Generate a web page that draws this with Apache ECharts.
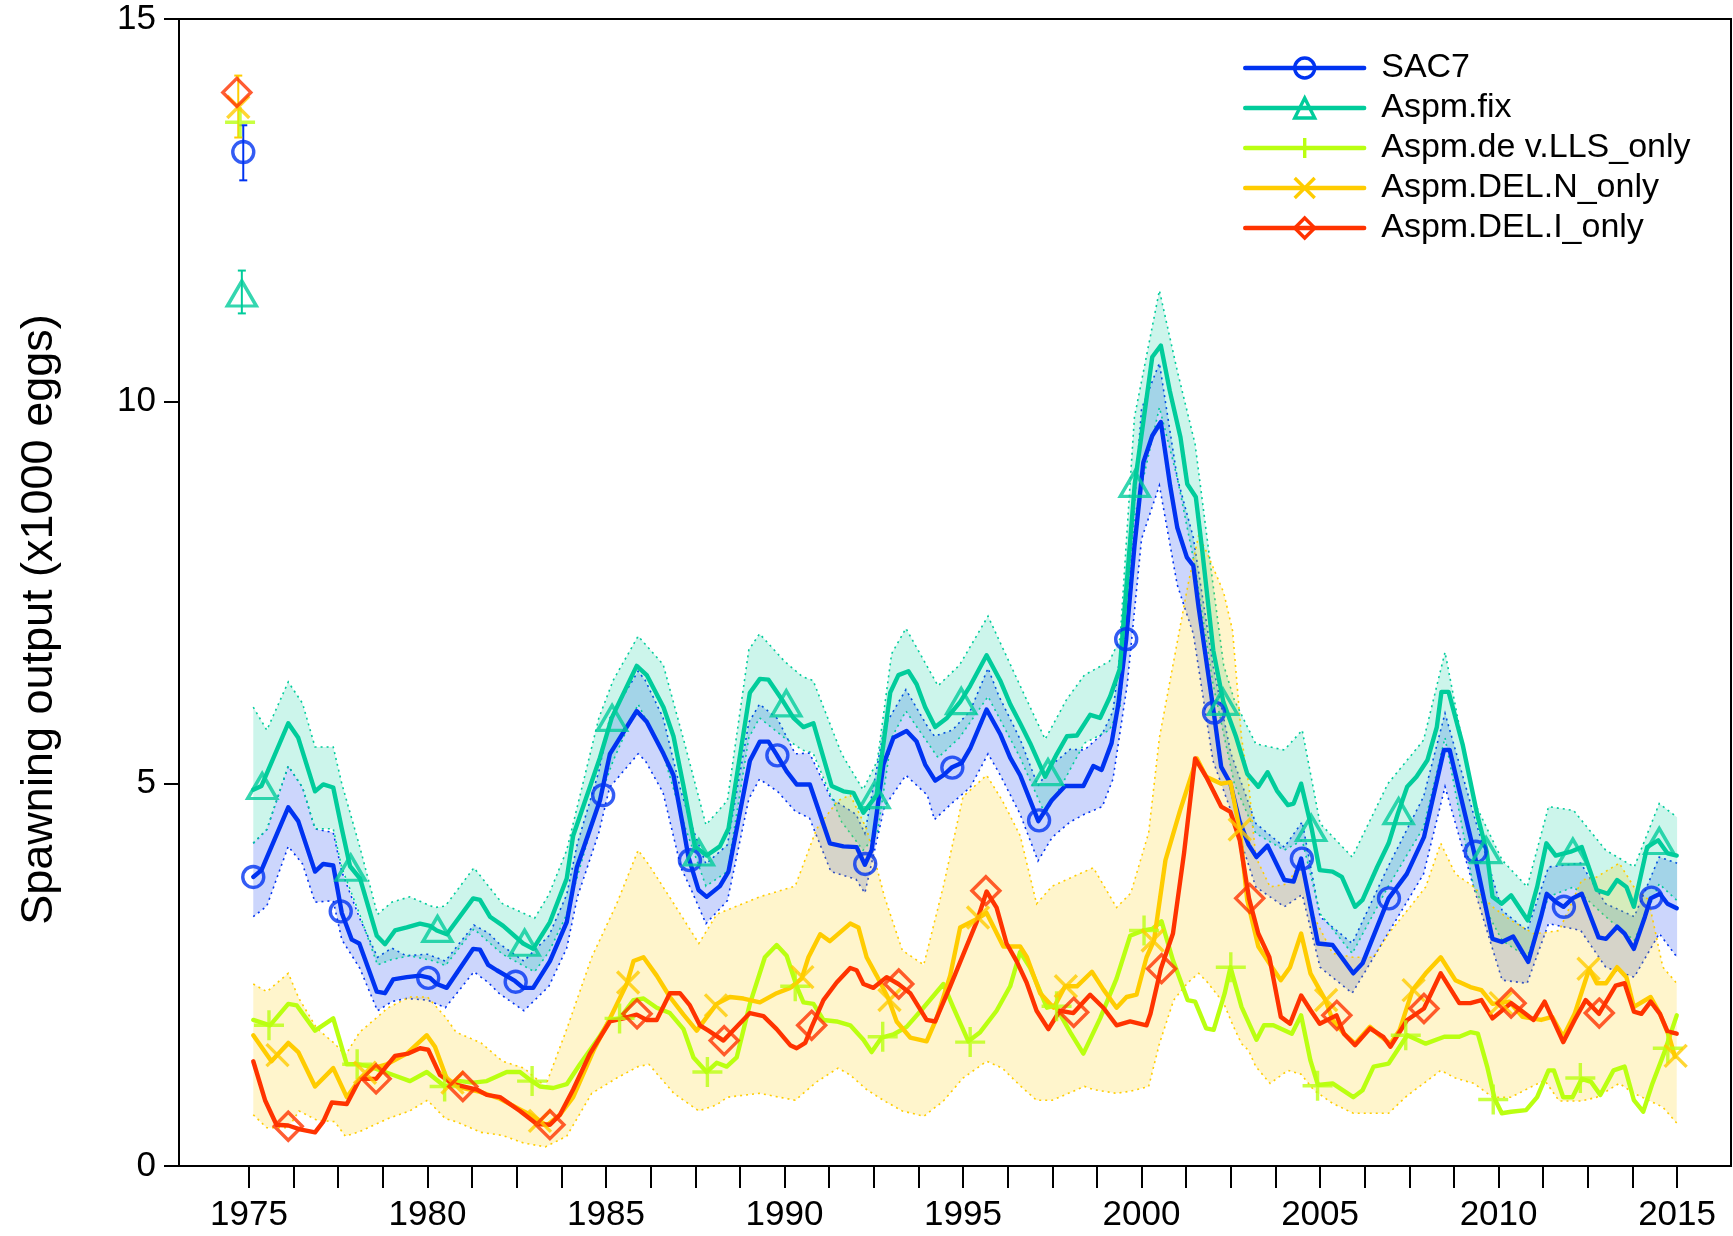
<!DOCTYPE html>
<html>
<head>
<meta charset="utf-8">
<script src="https://cdn.jsdelivr.net/npm/echarts@6/dist/echarts.min.js"></script>
<style>
html,body{margin:0;padding:0;background:#fff;}
#chart{width:1733px;height:1236px;}
</style>
</head>
<body>
<div id="chart"></div>
<script>
// ---------------- DATA ----------------
const seriesNames = ['SAC7', 'Aspm.fix', 'Aspm.de v.LLS_only', 'Aspm.DEL.N_only', 'Aspm.DEL.I_only'];
const yAxisTitle = 'Spawning output (x1000 eggs)';

const xTickValues = [1975, 1976.25, 1977.5, 1978.75, 1980, 1981.25, 1982.5, 1983.75, 1985, 1986.25, 1987.5, 1988.75,
  1990, 1991.25, 1992.5, 1993.75, 1995, 1996.25, 1997.5, 1998.75, 2000, 2001.25, 2002.5, 2003.75, 2005, 2006.25,
  2007.5, 2008.75, 2010, 2011.25, 2012.5, 2013.75, 2015];
const xLabelValues = [1975, 1980, 1985, 1990, 1995, 2000, 2005, 2010, 2015];

// time series [year, value]
const sac7Line = [[1975.12,3.78],[1975.35,3.87],[1976.10,4.69],[1976.38,4.51],[1976.85,3.85],[1977.08,3.95],[1977.36,3.93],[1977.60,3.31],[1977.88,2.96],[1978.09,2.91],[1978.58,2.28],[1978.81,2.26],[1979.04,2.44],[1979.42,2.47],[1979.79,2.49],[1980.07,2.46],[1980.26,2.38],[1980.54,2.33],[1981.28,2.84],[1981.47,2.83],[1981.70,2.63],[1981.94,2.56],[1982.45,2.42],[1982.68,2.33],[1982.96,2.33],[1983.43,2.68],[1983.90,3.19],[1984.18,3.90],[1984.83,4.78],[1985.11,5.39],[1985.86,5.95],[1986.14,5.81],[1986.61,5.39],[1986.89,5.11],[1987.17,4.41],[1987.31,4.04],[1987.59,3.61],[1987.82,3.52],[1988.19,3.66],[1988.43,3.85],[1989.03,5.30],[1989.31,5.55],[1989.55,5.55],[1989.78,5.38],[1990.06,5.16],[1990.34,4.99],[1990.71,4.99],[1991.27,4.22],[1991.65,4.18],[1992.02,4.17],[1992.25,3.94],[1992.44,4.13],[1992.77,5.25],[1993.05,5.60],[1993.42,5.69],[1993.70,5.55],[1993.94,5.25],[1994.22,5.04],[1994.45,5.11],[1994.68,5.21],[1994.96,5.27],[1995.20,5.46],[1995.66,5.97],[1996.04,5.65],[1996.32,5.34],[1996.60,5.11],[1997.11,4.51],[1997.48,4.78],[1997.86,4.97],[1998.37,4.97],[1998.65,5.23],[1998.88,5.18],[1999.16,5.53],[1999.35,6.04],[1999.57,6.89],[1999.80,8.10],[2000.05,9.20],[2000.30,9.55],[2000.54,9.73],[2000.80,8.90],[2001.00,8.35],[2001.27,7.96],[2001.45,7.85],[2001.60,7.30],[2002.02,5.94],[2002.23,5.22],[2002.49,5.00],[2002.75,4.50],[2003.00,4.20],[2003.22,4.04],[2003.53,4.19],[2004.00,3.74],[2004.26,3.72],[2004.47,4.02],[2004.94,2.91],[2005.35,2.89],[2005.93,2.52],[2006.19,2.65],[2006.92,3.50],[2007.43,3.82],[2007.91,4.30],[2008.47,5.44],[2008.63,5.44],[2009.31,4.11],[2009.83,2.97],[2010.09,2.93],[2010.41,3.00],[2010.83,2.67],[2011.19,3.26],[2011.35,3.56],[2011.61,3.45],[2011.82,3.39],[2012.07,3.50],[2012.33,3.56],[2012.80,2.99],[2013.01,2.97],[2013.32,3.13],[2013.53,3.04],[2013.79,2.84],[2014.10,3.26],[2014.26,3.50],[2014.52,3.56],[2014.73,3.43],[2014.99,3.37]];

const fixLine = [[1975.12,4.92],[1975.35,4.97],[1976.10,5.79],[1976.38,5.60],[1976.85,4.90],[1977.08,4.99],[1977.36,4.95],[1977.60,4.41],[1977.83,3.92],[1978.11,3.76],[1978.58,3.01],[1978.81,2.90],[1979.09,3.08],[1979.42,3.12],[1979.79,3.17],[1980.07,3.14],[1980.26,3.08],[1980.54,3.03],[1981.28,3.50],[1981.47,3.48],[1981.75,3.26],[1982.12,3.14],[1982.68,2.91],[1982.96,2.84],[1983.43,3.19],[1983.90,3.76],[1984.08,4.32],[1984.83,5.34],[1985.16,5.86],[1985.86,6.54],[1986.14,6.42],[1986.61,6.00],[1986.89,5.62],[1987.17,4.97],[1987.49,4.18],[1987.82,4.06],[1988.19,4.18],[1988.43,4.41],[1989.03,6.19],[1989.31,6.37],[1989.55,6.36],[1989.97,6.07],[1990.25,5.86],[1990.53,5.74],[1990.81,5.79],[1991.32,4.97],[1991.65,4.90],[1991.93,4.88],[1992.21,4.62],[1992.58,4.85],[1992.96,6.19],[1993.19,6.42],[1993.47,6.47],[1993.70,6.30],[1993.94,6.00],[1994.22,5.74],[1994.55,5.86],[1994.92,6.07],[1995.20,6.28],[1995.66,6.68],[1996.04,6.35],[1996.32,6.04],[1996.60,5.79],[1996.88,5.53],[1997.30,5.09],[1997.63,5.39],[1997.91,5.62],[1998.19,5.63],[1998.56,5.90],[1998.84,5.86],[1999.12,6.14],[1999.39,6.50],[1999.81,8.92],[2000.30,10.58],[2000.54,10.73],[2000.79,10.14],[2001.09,9.53],[2001.28,8.92],[2001.52,8.75],[2001.70,8.05],[2002.01,6.74],[2002.29,6.07],[2002.65,5.61],[2002.96,5.13],[2003.27,4.96],[2003.53,5.15],[2003.79,4.91],[2004.10,4.72],[2004.26,4.74],[2004.47,5.00],[2004.77,4.40],[2004.99,3.87],[2005.35,3.85],[2005.61,3.78],[2005.98,3.39],[2006.19,3.48],[2006.60,3.91],[2006.92,4.22],[2007.18,4.61],[2007.44,4.96],[2007.70,5.09],[2008.01,5.31],[2008.27,5.74],[2008.40,6.20],[2008.60,6.20],[2009.00,5.50],[2009.40,4.60],[2009.67,4.11],[2009.83,3.52],[2010.09,3.43],[2010.35,3.54],[2010.82,3.21],[2011.08,3.65],[2011.34,4.22],[2011.60,4.06],[2012.02,4.11],[2012.33,4.17],[2012.75,3.61],[2013.06,3.56],[2013.32,3.74],[2013.58,3.65],[2013.79,3.39],[2014.16,4.17],[2014.47,4.26],[2014.73,4.09],[2014.99,4.06]];

const deLine = [[1975.12,1.91],[1975.59,1.84],[1976.10,2.12],[1976.34,2.10],[1976.85,1.77],[1977.36,1.93],[1977.74,1.33],[1978.06,1.33],[1978.39,1.30],[1979.04,1.19],[1979.51,1.11],[1979.98,1.23],[1980.49,1.04],[1980.91,1.11],[1981.28,1.09],[1981.66,1.11],[1982.22,1.23],[1982.59,1.23],[1982.92,1.11],[1983.15,1.04],[1983.52,1.02],[1983.90,1.07],[1984.27,1.33],[1984.83,1.70],[1985.11,1.91],[1985.39,1.93],[1985.77,2.17],[1986.05,2.19],[1986.42,2.07],[1986.79,2.00],[1987.17,1.79],[1987.45,1.42],[1987.82,1.23],[1988.10,1.35],[1988.38,1.30],[1988.66,1.42],[1989.03,2.12],[1989.45,2.73],[1989.78,2.89],[1990.06,2.75],[1990.34,2.35],[1990.53,2.14],[1990.81,2.12],[1991.09,1.91],[1991.46,1.89],[1991.84,1.84],[1992.21,1.65],[1992.44,1.49],[1992.72,1.68],[1993.05,1.72],[1993.42,1.82],[1993.89,2.07],[1994.45,2.38],[1994.73,2.07],[1995.15,1.63],[1995.48,1.75],[1995.94,2.03],[1996.32,2.35],[1996.60,2.80],[1996.88,2.59],[1997.35,2.07],[1997.58,2.10],[1998.00,1.75],[1998.37,1.47],[1998.84,1.93],[1999.30,2.45],[1999.68,3.01],[2000.05,3.08],[2000.30,3.10],[2000.56,3.20],[2000.88,2.69],[2001.29,2.17],[2001.50,2.15],[2001.81,1.80],[2002.02,1.78],[2002.33,2.26],[2002.49,2.60],[2002.80,2.08],[2003.22,1.65],[2003.43,1.84],[2003.69,1.84],[2004.21,1.73],[2004.47,1.97],[2004.73,1.38],[2004.94,1.06],[2005.35,1.08],[2005.93,0.90],[2006.19,0.99],[2006.50,1.30],[2006.92,1.34],[2007.23,1.56],[2007.44,1.71],[2007.96,1.60],[2008.48,1.69],[2008.90,1.69],[2009.21,1.75],[2009.42,1.73],[2009.68,1.30],[2009.89,0.88],[2010.09,0.69],[2010.35,0.71],[2010.77,0.73],[2011.08,0.90],[2011.40,1.25],[2011.55,1.25],[2011.81,0.90],[2012.07,0.90],[2012.33,1.14],[2012.59,1.10],[2012.85,0.93],[2013.22,1.25],[2013.53,1.30],[2013.79,0.86],[2014.05,0.71],[2014.31,1.08],[2014.63,1.47],[2014.99,1.97]];

const delNLine = [[1975.12,1.71],[1975.63,1.37],[1976.10,1.61],[1976.38,1.49],[1976.85,1.04],[1977.36,1.28],[1977.74,0.90],[1978.11,1.14],[1978.48,1.28],[1978.86,1.33],[1979.42,1.47],[1979.98,1.71],[1980.21,1.56],[1980.54,1.14],[1981.00,1.02],[1981.47,0.97],[1982.03,0.88],[1982.59,0.74],[1982.96,0.65],[1983.34,0.53],[1983.71,0.67],[1984.08,0.90],[1984.65,1.51],[1985.11,1.93],[1985.58,2.38],[1985.77,2.68],[1986.05,2.73],[1986.42,2.49],[1986.79,2.21],[1987.17,1.98],[1987.54,1.77],[1988.10,2.12],[1988.47,2.21],[1988.85,2.19],[1989.31,2.14],[1989.78,2.26],[1990.16,2.33],[1990.48,2.45],[1990.67,2.73],[1991.00,3.03],[1991.27,2.94],[1991.84,3.17],[1992.07,3.12],[1992.30,2.73],[1992.58,2.49],[1992.91,2.19],[1993.14,1.89],[1993.52,1.68],[1993.98,1.63],[1994.26,1.93],[1994.64,2.49],[1994.92,3.12],[1995.43,3.24],[1995.66,3.31],[1996.13,2.87],[1996.60,2.87],[1996.79,2.73],[1997.16,2.26],[1997.54,2.07],[1997.86,2.35],[1998.19,2.35],[1998.61,2.54],[1998.93,2.31],[1999.30,2.07],[1999.58,2.21],[1999.86,2.24],[2000.14,2.73],[2000.35,2.95],[2000.67,4.00],[2001.08,4.65],[2001.55,5.33],[2001.81,5.09],[2002.23,5.00],[2002.49,5.02],[2002.75,4.39],[2002.96,3.48],[2003.27,2.87],[2003.58,2.65],[2003.90,2.43],[2004.16,2.60],[2004.47,3.04],[2004.73,2.52],[2005.15,2.17],[2005.35,1.91],[2005.67,1.73],[2005.98,1.60],[2006.40,1.82],[2006.71,1.69],[2006.97,1.60],[2007.23,1.78],[2007.59,2.30],[2007.96,2.52],[2008.38,2.73],[2008.79,2.43],[2009.21,2.34],[2009.52,2.30],[2009.83,2.12],[2010.30,2.15],[2010.67,1.95],[2011.19,1.91],[2011.50,1.95],[2011.81,1.69],[2012.13,1.99],[2012.54,2.58],[2012.75,2.39],[2013.01,2.39],[2013.32,2.60],[2013.58,2.47],[2013.79,2.08],[2014.26,2.21],[2014.52,1.99],[2014.78,1.69],[2014.94,1.43]];

const delILine = [[1975.12,1.37],[1975.45,0.86],[1975.77,0.54],[1976.10,0.53],[1976.43,0.48],[1976.85,0.44],[1977.08,0.58],[1977.32,0.83],[1977.74,0.81],[1978.11,1.14],[1978.56,1.14],[1979.09,1.44],[1979.46,1.47],[1979.79,1.54],[1980.02,1.52],[1980.35,1.19],[1980.72,1.07],[1981.00,1.04],[1981.38,1.00],[1981.66,0.93],[1982.03,0.90],[1982.59,0.72],[1983.06,0.55],[1983.43,0.54],[1983.71,0.67],[1984.08,1.00],[1984.55,1.47],[1985.11,1.89],[1985.49,1.93],[1985.86,1.98],[1986.14,1.91],[1986.42,1.91],[1986.79,2.26],[1987.07,2.26],[1987.35,2.10],[1987.63,1.84],[1987.87,1.77],[1988.29,1.64],[1988.66,1.82],[1989.03,2.00],[1989.41,1.96],[1989.78,1.79],[1990.16,1.58],[1990.34,1.54],[1990.58,1.61],[1990.76,1.82],[1991.09,2.17],[1991.46,2.40],[1991.84,2.59],[1992.02,2.56],[1992.21,2.38],[1992.49,2.33],[1992.86,2.47],[1993.19,2.38],[1993.52,2.26],[1993.98,1.91],[1994.22,1.89],[1994.64,2.35],[1995.01,2.77],[1995.38,3.19],[1995.66,3.59],[1995.94,3.38],[1996.22,2.91],[1996.50,2.68],[1996.78,2.40],[1997.06,2.03],[1997.39,1.79],[1997.71,2.03],[1998.09,2.00],[1998.56,2.24],[1998.93,2.07],[1999.30,1.84],[1999.68,1.89],[2000.14,1.84],[2000.25,1.99],[2000.54,2.58],[2000.88,3.04],[2001.19,4.09],[2001.50,5.33],[2001.81,5.09],[2002.23,4.70],[2002.49,4.63],[2002.75,4.26],[2003.01,3.50],[2003.27,3.04],[2003.58,2.73],[2003.90,1.95],[2004.16,1.86],[2004.47,2.23],[2004.73,2.04],[2004.99,1.86],[2005.46,1.97],[2005.67,1.73],[2005.98,1.58],[2006.40,1.80],[2006.77,1.69],[2006.97,1.56],[2007.44,1.91],[2007.91,2.06],[2008.38,2.52],[2008.90,2.13],[2009.21,2.13],[2009.52,2.17],[2009.83,1.93],[2010.35,2.13],[2010.67,2.02],[2010.98,1.91],[2011.29,2.15],[2011.81,1.62],[2012.13,1.91],[2012.44,2.17],[2012.81,1.99],[2013.28,2.36],[2013.53,2.39],[2013.79,2.02],[2014.00,1.99],[2014.26,2.15],[2014.52,1.99],[2014.73,1.76],[2014.99,1.73]];

// marker positions [year, value]
const sac7Marks = [[1975.12,3.78],[1977.57,3.33],[1980.02,2.46],[1982.47,2.41],[1984.92,4.85],[1987.35,4.00],[1989.80,5.37],[1992.26,3.95],[1994.70,5.21],[1997.13,4.52],[1999.57,6.89],[2002.03,5.93],[2004.49,4.02],[2006.93,3.50],[2009.36,4.11],[2011.83,3.39],[2014.28,3.51]];
const fixMarks = [[1975.37,4.97],[1977.85,3.90],[1980.28,3.10],[1982.72,2.92],[1985.17,5.86],[1987.60,4.10],[1990.05,6.05],[1992.52,4.85],[1994.95,6.08],[1997.38,5.15],[1999.81,8.92],[2002.28,6.07],[2004.75,4.42],[2007.20,4.64],[2009.65,4.13],[2012.08,4.11],[2014.50,4.25]];
const deMarks = [[1975.56,1.84],[1978.03,1.33],[1980.48,1.04],[1982.93,1.11],[1985.38,1.93],[1987.84,1.23],[1990.30,2.35],[1992.75,1.69],[1995.20,1.62],[1997.62,2.09],[2000.07,3.08],[2002.50,2.60],[2004.93,1.05],[2007.40,1.71],[2009.85,0.87],[2012.29,1.15],[2014.74,1.54]];
const delNMarks = [[1975.80,1.45],[1978.25,1.22],[1980.70,1.09],[1983.15,0.59],[1985.62,2.40],[1988.08,2.10],[1990.50,2.47],[1992.94,2.17],[1995.42,3.25],[1997.88,2.35],[2000.31,2.95],[2002.75,4.40],[2005.17,2.17],[2007.62,2.30],[2010.06,2.13],[2012.52,2.58],[2014.96,1.44]];
const delIMarks = [[1976.10,0.52],[1978.56,1.14],[1980.99,1.04],[1983.43,0.54],[1985.87,1.99],[1988.31,1.64],[1990.76,1.84],[1993.20,2.38],[1995.64,3.60],[1998.10,2.01],[2000.56,2.58],[2003.03,3.50],[2005.47,1.97],[2007.91,2.06],[2010.35,2.13],[2012.82,2.00]];

// virgin (equilibrium) estimates [year, value] per model, and their bars [year, low, high, model]
const virginPoints = [[1974.84,13.26],[1974.80,11.41],[1974.75,13.65],[1974.70,13.85],[1974.66,14.04]];
const virginBars = [[1974.84,12.89,13.61,0],[1974.80,11.15,11.71,1],[1974.70,13.45,14.26,3]];

// uncertainty intervals [year, low, high]
const sac7Band = [[1975.12,3.26,4.22],[1975.5,3.40,4.40],[1976.1,4.18,5.23],[1976.5,3.95,4.95],[1976.85,3.45,4.41],[1977.36,3.47,4.36],[1977.6,2.96,3.85],[1978.1,2.59,3.24],[1978.6,2.03,2.73],[1979.0,2.15,2.85],[1979.4,2.19,2.75],[1980.0,2.17,2.77],[1980.5,2.07,2.68],[1981.3,2.54,3.15],[1981.7,2.40,3.05],[1982.0,2.26,2.91],[1982.7,2.03,2.68],[1983.4,2.35,3.01],[1983.9,2.85,3.55],[1984.2,3.52,4.22],[1984.8,4.36,5.16],[1985.1,4.95,5.85],[1985.9,5.39,6.47],[1986.1,5.30,6.35],[1986.6,4.88,5.86],[1987.1,3.90,4.90],[1987.4,3.60,4.45],[1987.8,3.17,3.95],[1988.4,3.47,4.20],[1989.0,4.80,5.80],[1989.3,5.06,6.04],[1989.8,4.90,5.85],[1990.3,4.64,5.39],[1990.7,4.55,5.40],[1991.3,3.85,4.81],[1992.0,3.75,4.60],[1992.25,3.57,4.35],[1992.8,4.70,5.75],[1993.4,5.11,6.23],[1994.0,4.85,5.75],[1994.2,4.53,5.62],[1994.7,4.75,5.70],[1995.2,4.95,5.95],[1995.7,5.39,6.51],[1996.0,5.15,6.15],[1996.6,4.60,5.58],[1997.1,3.99,4.97],[1997.5,4.30,5.25],[1998.0,4.50,5.45],[1998.4,4.60,5.44],[1998.9,4.70,5.65],[1999.2,5.06,5.95],[1999.6,6.30,7.45],[2000.0,8.20,9.90],[2000.5,8.90,10.50],[2001.0,7.60,9.00],[2001.45,6.96,8.22],[2002.0,5.30,6.55],[2002.5,4.65,5.40],[2003.2,3.65,4.48],[2004.0,3.39,4.17],[2004.5,3.55,4.50],[2005.0,2.60,3.26],[2005.9,2.26,2.91],[2006.9,3.04,3.91],[2007.9,3.82,4.83],[2008.5,4.96,5.92],[2009.3,3.65,4.60],[2010.1,2.43,3.34],[2010.8,2.39,3.08],[2011.4,3.17,3.91],[2012.3,3.08,3.96],[2013.0,2.60,3.43],[2013.8,2.47,3.26],[2014.5,3.04,4.04],[2015.0,2.73,3.96]];

const fixBand = [[1975.12,4.22,6.00],[1975.5,4.40,5.70],[1976.1,5.23,6.33],[1976.5,4.95,6.05],[1976.85,4.41,5.48],[1977.36,4.41,5.48],[1977.6,3.90,5.00],[1978.1,3.29,4.18],[1978.6,2.63,3.29],[1979.0,2.70,3.45],[1979.5,2.75,3.52],[1980.2,2.68,3.38],[1980.5,2.62,3.40],[1981.3,3.10,3.90],[1982.1,2.77,3.43],[1983.0,2.54,3.24],[1983.4,2.80,3.55],[1983.9,3.29,4.13],[1984.8,4.78,5.86],[1985.2,5.30,6.35],[1985.9,6.04,6.93],[1986.6,5.39,6.56],[1987.2,4.45,5.53],[1987.8,3.66,4.46],[1988.4,3.85,4.78],[1989.0,5.60,6.75],[1989.3,5.86,6.96],[1990.0,5.60,6.60],[1990.5,5.44,6.40],[1990.8,5.40,6.35],[1991.6,4.50,5.39],[1992.2,4.13,4.92],[1992.6,4.35,5.30],[1993.0,5.60,6.70],[1993.4,5.95,7.03],[1994.3,5.34,6.28],[1994.9,5.60,6.55],[1995.7,6.14,7.19],[1996.6,5.34,6.28],[1997.3,4.60,5.58],[1997.9,5.10,6.10],[1998.4,5.53,6.42],[1999.1,5.70,6.60],[1999.4,6.00,6.90],[1999.8,8.48,9.79],[2000.5,9.92,11.45],[2001.0,9.00,10.40],[2001.5,7.83,9.44],[2002.0,6.31,7.61],[2002.3,5.65,6.55],[2002.6,5.00,6.09],[2003.2,4.35,5.52],[2004.0,4.13,5.44],[2004.5,4.26,5.70],[2005.0,3.30,4.48],[2005.9,2.78,4.04],[2006.9,3.65,5.00],[2007.9,4.43,5.57],[2008.5,5.60,6.72],[2009.3,3.65,4.78],[2010.1,2.95,4.00],[2010.8,2.73,3.65],[2011.4,3.52,4.70],[2012.1,3.65,4.65],[2013.0,3.26,4.13],[2013.8,2.95,3.91],[2014.5,3.69,4.74],[2015.0,3.47,4.56]];

const delNBand = [[1975.12,0.67,2.38],[1975.5,0.50,2.28],[1976.1,0.50,2.52],[1976.4,0.72,2.19],[1976.9,0.60,1.80],[1977.4,0.58,1.60],[1977.7,0.39,1.45],[1978.1,0.45,1.75],[1978.9,0.62,2.07],[1979.5,0.72,2.21],[1980.0,0.86,2.21],[1980.5,0.62,1.95],[1980.8,0.58,1.75],[1981.5,0.44,1.61],[1982.1,0.40,1.37],[1982.7,0.30,1.28],[1983.3,0.25,1.04],[1983.9,0.39,1.79],[1984.6,0.95,2.73],[1985.3,1.15,3.43],[1985.9,1.30,4.13],[1986.2,1.33,3.94],[1986.9,0.95,3.43],[1987.6,0.72,2.91],[1988.1,0.80,3.29],[1988.4,0.90,3.35],[1989.3,0.95,3.52],[1990.3,0.86,3.66],[1990.9,1.10,4.41],[1991.5,1.28,4.78],[1991.84,1.19,4.85],[1992.3,1.00,4.41],[1992.8,0.85,3.52],[1993.3,0.72,2.82],[1993.9,0.65,2.63],[1994.45,0.85,3.66],[1995.0,1.15,4.83],[1995.66,1.37,5.11],[1996.1,1.28,4.78],[1996.6,1.05,4.32],[1997.06,0.86,3.43],[1997.5,0.86,3.66],[1998.4,1.04,3.85],[1998.65,1.00,3.90],[1999.3,0.95,3.38],[1999.7,0.98,3.57],[2000.2,1.04,4.36],[2000.5,1.60,5.60],[2000.9,2.17,6.60],[2001.3,2.40,7.60],[2001.6,2.52,8.25],[2001.85,2.40,8.00],[2002.3,2.13,7.50],[2002.55,1.85,7.00],[2002.8,1.60,5.60],[2003.0,1.51,5.00],[2003.2,1.30,4.04],[2003.6,1.08,3.65],[2004.1,1.25,3.69],[2004.47,1.20,4.00],[2004.83,0.99,3.26],[2005.35,0.82,2.78],[2005.93,0.69,2.73],[2006.5,0.69,2.73],[2006.92,0.69,3.04],[2007.44,0.92,3.34],[2007.96,1.10,3.65],[2008.38,1.25,4.22],[2008.79,1.15,3.82],[2009.31,1.08,3.65],[2009.83,0.90,3.39],[2010.35,0.90,3.21],[2010.98,1.05,3.04],[2011.29,1.12,3.05],[2011.7,0.85,3.08],[2012.33,0.85,3.74],[2012.75,0.90,3.78],[2013.38,1.08,3.96],[2013.79,0.95,3.65],[2014.2,0.86,3.48],[2014.6,0.77,2.60],[2014.99,0.56,2.39]];

// ---------------- STYLE ----------------
const COLORS = ['#0033F1', '#01CC9B', '#BAFF11', '#FFCC00', '#FF3300'];
const FILLS = ['rgba(0,51,241,0.2)', 'rgba(1,204,155,0.2)', null, 'rgba(255,204,0,0.2)', null];
const PLUS = 'path://M0,5L10,5M5,0L5,10';
const CROSS = 'path://M0,0L10,10M10,0L0,10';
const SYMBOLS = ['circle', 'triangle', PLUS, CROSS, 'diamond'];
const SYMSIZE = [21, [29, 25], 30, 22, 28];
const FONT = '"Liberation Sans", Arial, Helvetica, sans-serif';
const LINE_W = 4.4;

const lines = [sac7Line, fixLine, deLine, delNLine, delILine];
const marks = [sac7Marks, fixMarks, deMarks, delNMarks, delIMarks];
const bands = [[sac7Band, 0], [fixBand, 1], [delNBand, 3]];

function bandRenderer(k) {
  return function (params, api) {
    if (params.dataIndexInside !== 0) return null;
    const n = params.dataInsideLength;
    const up = [], lo = [];
    for (let i = 0; i < n; i++) {
      const x = api.value(0, i);
      up.push(api.coord([x, api.value(2, i)]));
      lo.push(api.coord([x, api.value(1, i)]));
    }
    const poly = up.concat(lo.slice().reverse());
    const edge = { fill: 'none', stroke: COLORS[k], lineWidth: 1.6, lineDash: [2, 4] };
    return {
      type: 'group', children: [
        { type: 'polygon', shape: { points: poly }, style: { fill: FILLS[k], stroke: 'none' } },
        { type: 'polyline', shape: { points: up }, style: edge },
        { type: 'polyline', shape: { points: lo }, style: edge }
      ]
    };
  };
}

const series = [];
// uncertainty bands
bands.forEach(function (b) {
  const k = b[1];
  series.push({
    type: 'custom', name: seriesNames[k] + ' interval', z: 1, silent: true, animation: false,
    data: b[0], encode: { x: 0, y: [1, 2] }, renderItem: bandRenderer(k)
  });
});
// main lines
lines.forEach(function (d, k) {
  series.push({
    type: 'line', name: seriesNames[k], data: d, z: 3,
    symbol: SYMBOLS[k], showSymbol: false,
    itemStyle: { color: COLORS[k] },
    lineStyle: { color: COLORS[k], width: LINE_W, join: 'round', cap: 'round' },
    emphasis: { disabled: true }, animation: false
  });
});
// markers (incl. virgin estimate)
marks.forEach(function (d, k) {
  series.push({
    type: 'scatter', name: seriesNames[k], data: d.concat([virginPoints[k]]), z: 4,
    symbol: SYMBOLS[k], symbolSize: SYMSIZE[k],
    itemStyle: { color: 'transparent', borderColor: COLORS[k], borderWidth: 3.4 },
    emphasis: { disabled: true }, animation: false
  });
});
// virgin error bars
series.push({
  type: 'custom', name: 'virgin bars', z: 3, silent: true, animation: false,
  data: virginBars, encode: { x: 0, y: [1, 2] },
  renderItem: function (params, api) {
    const x = api.value(0), lo = api.value(1), hi = api.value(2);
    const c = COLORS[api.value(3)];
    const a = api.coord([x, lo]), b = api.coord([x, hi]);
    const w = 4;
    const st = { stroke: c, lineWidth: 2 };
    return {
      type: 'group', children: [
        { type: 'line', shape: { x1: a[0], y1: a[1], x2: b[0], y2: b[1] }, style: st },
        { type: 'line', shape: { x1: a[0] - w, y1: a[1], x2: a[0] + w, y2: a[1] }, style: st },
        { type: 'line', shape: { x1: b[0] - w, y1: b[1], x2: b[0] + w, y2: b[1] }, style: st }
      ]
    };
  }
});

const option = {
  animation: false,
  backgroundColor: '#ffffff',
  textStyle: { fontFamily: FONT },
  grid: { left: 179, right: 2, top: 19, bottom: 70, show: true, borderColor: '#000', borderWidth: 2, backgroundColor: 'transparent' },
  xAxis: {
    type: 'value', min: 1973.04, max: 2016.51,
    axisLine: { show: false },
    splitLine: { show: false },
    axisTick: { show: true, customValues: xTickValues, length: 22, lineStyle: { color: '#000', width: 2 } },
    axisLabel: { show: true, customValues: xLabelValues, margin: 32, fontSize: 35, color: '#000', fontFamily: FONT,
      formatter: function (v) { return String(v); } }
  },
  yAxis: {
    type: 'value', min: 0, max: 15, interval: 5,
    axisLine: { show: false },
    splitLine: { show: false },
    axisTick: { show: true, length: 15, lineStyle: { color: '#000', width: 2 } },
    axisLabel: { margin: 23, fontSize: 35, color: '#000', fontFamily: FONT },
    name: yAxisTitle, nameLocation: 'middle', nameGap: 117,
    nameTextStyle: { fontSize: 45, color: '#000', fontFamily: FONT, padding: [0, 54, 0, 0] }
  },
  legend: {
    show: true, orient: 'vertical', left: 1243, top: 51, padding: 0,
    itemWidth: 119, itemHeight: 25, itemGap: 6, selectedMode: false,
    textStyle: { fontSize: 34, color: '#000', fontFamily: FONT, padding: [0, 0, 0, 12] },
    data: seriesNames.map(function (n, k) {
      return {
        name: n,
        itemStyle: { color: 'transparent', borderColor: COLORS[k], borderWidth: 3.4 },
        lineStyle: { color: COLORS[k], width: LINE_W }
      };
    })
  },
  series: series
};

const chart = echarts.init(document.getElementById('chart'), null, { renderer: 'canvas' });
chart.setOption(option);
</script>
</body>
</html>
